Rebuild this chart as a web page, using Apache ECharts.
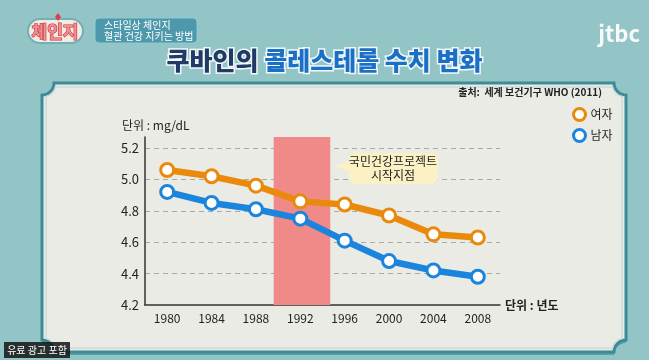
<!DOCTYPE html>
<html>
<head>
<meta charset="utf-8">
<style>
html,body{margin:0;padding:0;background:#93c5c7;}
#chart{width:649px;height:360px;}
</style>
<script src="https://cdn.jsdelivr.net/npm/echarts@6/dist/echarts.min.js"></script>
</head>
<body>
<div id="chart"></div>
<script>
// ---- data ----
var years = ['1980', '1984', '1988', '1992', '1996', '2000', '2004', '2008'];
var female = [5.06, 5.02, 4.96, 4.86, 4.84, 4.77, 4.65, 4.63];
var male = [4.92, 4.85, 4.81, 4.75, 4.61, 4.48, 4.42, 4.38];
var seriesNames = ['여자', '남자'];
var bandYears = [1989.6, 1994.7];   // 국민건강프로젝트 period (shaded)
var yTicks = {min: 4.2, max: 5.27, interval: 0.2};

var FONT = '"Noto Sans CJK KR", "Noto Sans", sans-serif';
var ORANGE = '#ea8a0c';
var BLUE = '#1b84dc';

var chart = echarts.init(document.getElementById('chart'), null, {renderer: 'canvas'});

// panel outline with concave (notched) corners, as polygon points
function panelPoints(l, t, rr, b, c) {
  var pts = [];
  function arc(cx, cy, a0, a1) {
    var n = 8;
    for (var i = 0; i <= n; i++) {
      var a = a0 + (a1 - a0) * i / n;
      pts.push([cx + c * Math.cos(a), cy + c * Math.sin(a)]);
    }
  }
  var P = Math.PI;
  arc(rr, t, P, P / 2);          // top-right
  arc(rr, b, -P / 2, -P);        // bottom-right
  arc(l, b, 0, -P / 2);          // bottom-left
  arc(l, t, P / 2, 0);           // top-left
  return pts;
}
var L = 42, T = 83, R = 626, B = 352, C = 12;

var option = {
  backgroundColor: '#93c5c7',
  animation: false,
  textStyle: {fontFamily: FONT},
  grid: {left: 145, right: 149, top: 137, bottom: 55, containLabel: false},
  legend: {
    orient: 'vertical',
    left: 567, top: 102,
    itemWidth: 12, itemHeight: 12, itemGap: 6,
    icon: 'circle',
    textStyle: {fontFamily: FONT, fontSize: 12, color: '#222'},
    data: [
      {name: seriesNames[0], itemStyle: {color: '#fff', borderColor: ORANGE, borderWidth: 3}},
      {name: seriesNames[1], itemStyle: {color: '#fff', borderColor: BLUE, borderWidth: 3}}
    ],
    selectedMode: false
  },
  xAxis: [{
    type: 'category',
    data: years,
    boundaryGap: true,
    axisLine: {lineStyle: {color: '#333', width: 1.5}},
    axisTick: {show: false},
    axisLabel: {fontFamily: FONT, fontSize: 12, color: '#222', margin: 7},
    name: '단위 : 년도',
    nameLocation: 'end',
    nameGap: 5,
    nameTextStyle: {fontFamily: FONT, fontSize: 12, color: '#222', fontWeight: 'bold'},
    splitLine: {show: false}
  }, {
    type: 'value',
    min: 1978, max: 2010,
    show: false
  }],
  yAxis: {
    type: 'value',
    min: yTicks.min, max: yTicks.max, interval: yTicks.interval,
    axisLine: {show: true, lineStyle: {color: '#333', width: 1.5}},
    axisTick: {show: false},
    axisLabel: {fontFamily: FONT, fontSize: 13, color: '#222', margin: 6, showMaxLabel: false,
      formatter: function (v) { return v.toFixed(1); }},
    splitLine: {show: true, showMinLine: false, showMaxLine: false,
      lineStyle: {color: '#a8a8a4', type: [5, 4], width: 1}},
    name: '단위 : mg/dL',
    nameLocation: 'end',
    nameGap: 6,
    nameTextStyle: {fontFamily: FONT, fontSize: 12, color: '#222', align: 'left', padding: [0, 0, 0, -23]}
  },
  series: [{
    name: 'band',
    type: 'line',
    xAxisIndex: 1,
    data: [],
    silent: true,
    z: 1,
    markArea: {
      silent: true,
      itemStyle: {color: '#ef8a88', opacity: 1},
      data: [[{xAxis: bandYears[0], yAxis: yTicks.min}, {xAxis: bandYears[1], yAxis: yTicks.max}]]
    }
  }, {
    name: seriesNames[0],
    type: 'line',
    data: female,
    z: 3,
    symbol: 'circle',
    symbolSize: 13,
    lineStyle: {color: ORANGE, width: 6.5},
    itemStyle: {color: '#fff', borderColor: ORANGE, borderWidth: 3},
    emphasis: {disabled: true}
  }, {
    name: seriesNames[1],
    type: 'line',
    data: male,
    z: 3,
    symbol: 'circle',
    symbolSize: 13,
    lineStyle: {color: BLUE, width: 6.5},
    itemStyle: {color: '#fff', borderColor: BLUE, borderWidth: 3},
    emphasis: {disabled: true}
  }],
  graphic: [
    // panel
    {type: 'polygon', z: -10, shape: {points: panelPoints(L, T + 3, R, B + 3, C)},
      style: {fill: '#5e9ea6'}},
    {type: 'polygon', z: -9, shape: {points: panelPoints(L, T, R, B, C)},
      style: {fill: '#ebebe6', stroke: '#3d8b97', lineWidth: 3}},
    {type: 'polygon', z: -8, shape: {points: panelPoints(L + 4, T + 4, R - 4, B - 4, C - 3)},
      style: {fill: null, stroke: '#b8d6d8', lineWidth: 1}},
    // title
    {type: 'text', z: 5, left: 'center', top: 46,
      style: {
        text: '{a|쿠바인의} {b|콜레스테롤 수치 변화}',
        font: '900 25px ' + FONT,
        rich: {
          a: {fontFamily: FONT, fontSize: 25, fontWeight: 900, fill: '#1f3b66', stroke: '#f4f8f8', lineWidth: 3},
          b: {fontFamily: FONT, fontSize: 25, fontWeight: 900, fill: '#1a6fc6', stroke: '#f4f8f8', lineWidth: 3}
        }
      }},
    // source
    {type: 'text', z: 5, x: 602, y: 92,
      style: {text: '출처:  세계 보건기구 WHO (2011)', font: 'bold 10px ' + FONT, fill: '#222',
        align: 'right', verticalAlign: 'middle'}},
    // callout
    {type: 'rect', z: 6, shape: {x: 349, y: 153, width: 89, height: 31, r: 7},
      style: {fill: '#fcf1c4'}},
    {type: 'polygon', z: 6, shape: {points: [[350, 161], [335, 166], [350, 172]]},
      style: {fill: '#fcf1c4'}},
    {type: 'text', z: 7, x: 393, y: 161,
      style: {text: '국민건강프로젝트', font: '12px ' + FONT, fill: '#222', align: 'center', verticalAlign: 'middle'}},
    {type: 'text', z: 7, x: 393, y: 175,
      style: {text: '시작지점', font: '12px ' + FONT, fill: '#222', align: 'center', verticalAlign: 'middle'}},
    // logo
    {type: 'rect', z: 5, shape: {x: 28, y: 19, width: 55, height: 24, r: 12},
      style: {fill: '#f3ece0', stroke: '#6fb0bd', lineWidth: 2}},
    {type: 'polygon', z: 6, shape: {points: [[58, 13], [61, 17], [58, 21], [55, 17]]},
      style: {fill: '#e23d45'}},
    {type: 'text', z: 6, x: 55, y: 32,
      style: {text: '체인지', font: 'bold 17px ' + FONT, fill: '#ef8f95', stroke: '#c42f3c', lineWidth: 1.2,
        align: 'center', verticalAlign: 'middle'}},
    {type: 'rect', z: 5, shape: {x: 95, y: 18, width: 102, height: 25, r: 4},
      style: {fill: '#4e98ab', stroke: '#8ccbd6', lineWidth: 1}},
    {type: 'text', z: 6, x: 104, y: 25,
      style: {text: '스타일상 체인지', font: '10px ' + FONT, fill: '#fff', verticalAlign: 'middle'}},
    {type: 'text', z: 6, x: 104, y: 36,
      style: {text: '혈관 건강 지키는 방법', font: '10px ' + FONT, fill: '#fff', verticalAlign: 'middle'}},
    // jtbc
    {type: 'text', z: 6, x: 640, y: 34,
      style: {text: 'jtbc', font: 'bold 22px ' + FONT, fill: '#fafafa', align: 'right', verticalAlign: 'middle'}},
    // paid ad
    {type: 'rect', z: 6, shape: {x: 4, y: 342, width: 66, height: 16},
      style: {fill: 'rgba(20,20,20,0.85)'}},
    {type: 'text', z: 7, x: 37, y: 350,
      style: {text: '유료 광고 포함', font: '10px ' + FONT, fill: '#fff', align: 'center', verticalAlign: 'middle'}}
  ]
};
chart.setOption(option);
</script>
</body>
</html>
